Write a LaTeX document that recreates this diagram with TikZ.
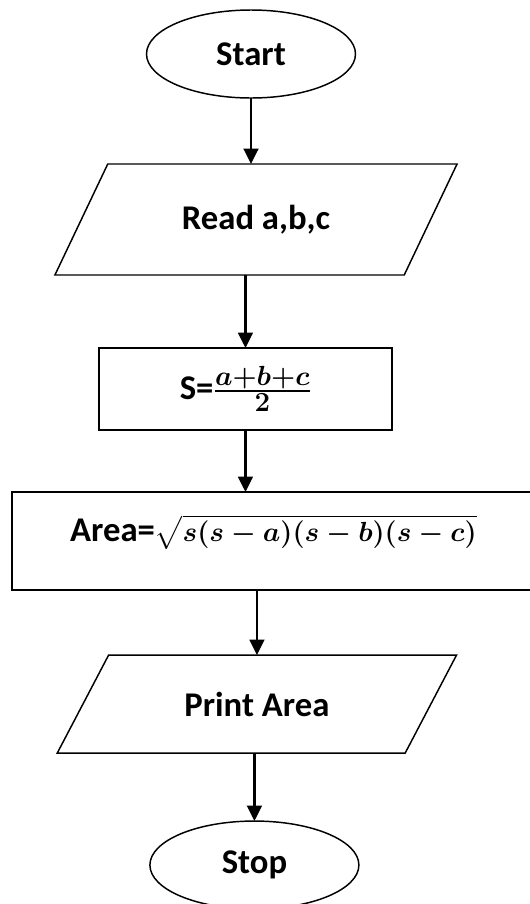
\documentclass[tikz,border=0pt]{standalone}
\usepackage{fontspec}
\setmainfont{Carlito}
\usepackage{amsmath}
\usetikzlibrary{shapes.geometric,arrows.meta,positioning}
\tikzset{term node/.style={ellipse,draw,line width=1.1pt,minimum width=156.75pt,minimum height=66pt,inner sep=0pt,outer sep=0pt},
         io node/.style={trapezium,draw,line width=1.1pt,trapezium stretches=true,inner sep=0pt,outer sep=0pt},
         proc node/.style={rectangle,draw,line width=1.7pt,inner sep=0pt,outer sep=0pt},
         flow/.style={->,line width=1.8pt}
}

\begin{document}
\begin{tikzpicture}[x=0.75pt,y=-0.75pt,
>={Triangle[length=11.5pt,width=11pt]},
font=\fontsize{26}{31}\selectfont\bfseries\boldmath]
\useasboundingbox (0,0) rectangle (530,904);

\node [term node] (start) at (251,54) {Start};
\node [io node, below=49.5pt of start, xshift=3.75pt,
       trapezium left angle=47.7, trapezium right angle=132.3,
       minimum width=302.25pt, minimum height=83.25pt] (read) {Read a,b,c};
\node [proc node, below=54.75pt of read, xshift=-7.9pt,
       minimum width=219.75pt, minimum height=61.5pt] (sbox)
       {S={\fontsize{30}{36}\selectfont$\frac{a+b+c}{2}$}};
\node [proc node, below=46.5pt of sbox, xshift=21pt,
       minimum width=392.25pt, text height=36.75pt, text depth=36.75pt] (area)
       {Area={\fontsize{20}{24}\selectfont$\sqrt{s(s-a)(s-b)(s-c)}$}};
\node [io node, below=48.75pt of area, xshift=-12.4pt,
       trapezium left angle=44.4, trapezium right angle=135.6,
       minimum width=300pt, minimum height=73.5pt] (print) {Print Area};
\node [term node, below=51pt of print, xshift=-1.9pt] (stop) {Stop};

\draw [flow] (start.south) -- (start.south |- read.north);
\draw [flow] (sbox.north |- read.south) -- (sbox.north);
\draw [flow] (sbox.south) -- (sbox.south |- area.north);
\draw [flow] (print.north |- area.south) -- (print.north);
\draw [flow] (stop.north |- print.south) -- (stop.north);
\end{tikzpicture}
\end{document}
